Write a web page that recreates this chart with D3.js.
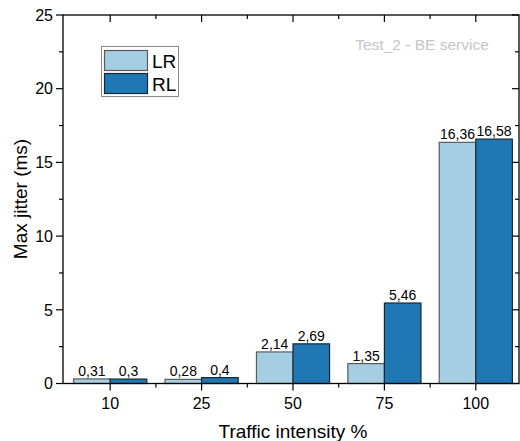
<!DOCTYPE html>
<html><head><meta charset="utf-8">
<script src="https://cdn.jsdelivr.net/npm/d3@7"></script>
<style>body{margin:0;background:#fff}svg{display:block;font-family:Arial,"Liberation Sans",sans-serif}</style>
</head><body><svg id="c" width="520" height="441"></svg>
<script>
const categories = ["10","25","50","75","100"];
const seriesNames = ["LR","RL"];
const lrValues = [0.31,0.28,2.14,1.35,16.36];
const rlValues = [0.3,0.4,2.69,5.46,16.58];
const yTicks = [0,5,10,15,20,25];
const yMinorTicks = [2.5,7.5,12.5,17.5,22.5];
const colors = ["#a6cee3","#1f78b4"];
const strokes = ["#5a5a5a","#1a2633"];

const svg = d3.select("#c");
const L=63, R=519, T=15, B=383.5;
const x = d3.scaleBand().domain(categories).range([64.5,521.5]);
const xs = d3.scaleBand().domain(seriesNames).range([0,x.bandwidth()*0.8]);
const y = d3.scaleLinear().domain([0,25]).range([B,T]);
const fmt = v => String(v).replace(".",",");
const series = [lrValues, rlValues];

// bars
seriesNames.forEach((s,si)=>{
  const g = svg.append("g");
  g.selectAll("rect").data(categories).join("rect")
    .attr("x",c=>x(c)+x.bandwidth()*0.1+xs(s))
    .attr("y",(c,i)=>y(series[si][i]))
    .attr("width",xs.bandwidth())
    .attr("height",(c,i)=>B-y(series[si][i]))
    .attr("fill",colors[si]).attr("stroke",strokes[si]).attr("stroke-width",1.2);
  g.selectAll("text").data(categories).join("text")
    .attr("x",c=>x(c)+x.bandwidth()*0.1+xs(s)+xs.bandwidth()/2)
    .attr("y",(c,i)=>y(series[si][i])-3)
    .attr("text-anchor","middle").attr("font-size",14).attr("fill","#000")
    .text((c,i)=>fmt(series[si][i]));
});

// frame
svg.append("rect").attr("x",L).attr("y",T).attr("width",R-L).attr("height",B-T)
  .attr("fill","none").attr("stroke","#000").attr("stroke-width",1.3);

const xMinor = categories.slice(1).map(c=>x(c));
const tk = svg.append("g").attr("stroke","#000").attr("stroke-width",1.2);
categories.forEach(c=>{
  const cx = x(c)+x.bandwidth()/2;
  tk.append("line").attr("x1",cx).attr("x2",cx).attr("y1",B).attr("y2",B+7);
  tk.append("line").attr("x1",cx).attr("x2",cx).attr("y1",T).attr("y2",T+7);
});
xMinor.forEach(px=>{
  tk.append("line").attr("x1",px).attr("x2",px).attr("y1",B).attr("y2",B+4);
  tk.append("line").attr("x1",px).attr("x2",px).attr("y1",T).attr("y2",T+4);
});
yTicks.forEach(v=>{
  tk.append("line").attr("x1",L-7).attr("x2",L).attr("y1",y(v)).attr("y2",y(v));
  tk.append("line").attr("x1",R-7).attr("x2",R).attr("y1",y(v)).attr("y2",y(v));
});
yMinorTicks.forEach(v=>{
  tk.append("line").attr("x1",L-4).attr("x2",L).attr("y1",y(v)).attr("y2",y(v));
  tk.append("line").attr("x1",R-4).attr("x2",R).attr("y1",y(v)).attr("y2",y(v));
});

// tick labels
svg.append("g").selectAll("text").data(categories).join("text")
  .attr("x",c=>x(c)+x.bandwidth()/2).attr("y",409)
  .attr("text-anchor","middle").attr("font-size",16).text(c=>c);
svg.append("g").selectAll("text").data(yTicks).join("text")
  .attr("x",L-10).attr("y",v=>y(v)+5.7)
  .attr("text-anchor","end").attr("font-size",16).text(v=>v);

// axis titles
svg.append("text").attr("x",293).attr("y",438).attr("text-anchor","middle")
  .attr("font-size",19).text("Traffic intensity %");
svg.append("text").attr("transform","translate(27,199) rotate(-90)")
  .attr("text-anchor","middle").attr("font-size",19).text("Max jitter (ms)");

// title
svg.append("text").attr("x",422).attr("y",49.5).attr("text-anchor","middle")
  .attr("font-size",15.5).attr("fill","#c6c6c6").text("Test_2 - BE service");

// legend
const lg = svg.append("g");
lg.append("rect").attr("x",101.5).attr("y",46.5).attr("width",77).attr("height",50)
  .attr("fill","#fff").attr("stroke","#8a8a8a").attr("stroke-width",1);
seriesNames.forEach((s,i)=>{
  lg.append("rect").attr("x",104.5).attr("y",50.5+i*23).attr("width",43).attr("height",20)
    .attr("fill",colors[i]).attr("stroke",strokes[i]).attr("stroke-width",1.2);
  lg.append("text").attr("x",152).attr("y",67.5+i*23).attr("font-size",19).text(s);
});
</script></body></html>
